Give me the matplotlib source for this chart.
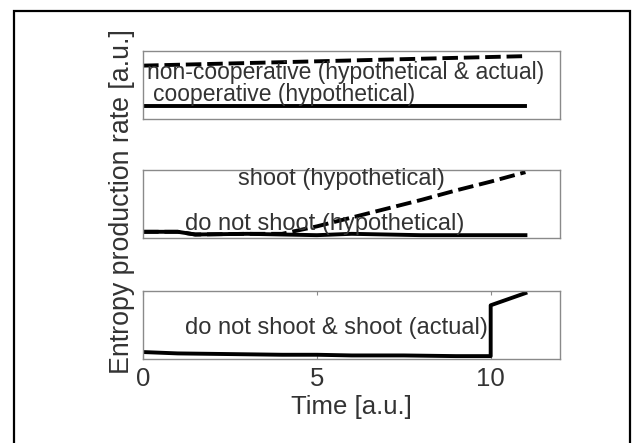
import matplotlib
matplotlib.use('Agg')
import matplotlib.pyplot as plt
import matplotlib.patches as mpatches

plt.rcParams['font.family'] = ['Liberation Sans', 'DejaVu Sans']

# top panel: cooperation
t_noncoop = [0, 5.5, 11]
y_noncoop = [0.79, 0.86, 0.93]
t_coop = [0, 11]
y_coop = [0.19, 0.19]

# middle panel: shoot / do not shoot (hypothetical)
t_mid = [0, 1, 1.5, 3, 4, 5, 6, 7, 8, 9, 10, 11]
y_noshoot = [0.09, 0.09, 0.05, 0.06, 0.05, 0.04, 0.06, 0.05, 0.04, 0.04, 0.04, 0.04]
y_shoot = [0.09, 0.09, 0.05, 0.06, 0.06, 0.17, 0.30, 0.43, 0.56, 0.70, 0.83, 0.97]

# bottom panel: actual
t_act = [0, 1, 2.5, 4, 5, 6, 7.5, 9, 10, 10, 11]
y_act = [0.10, 0.08, 0.07, 0.06, 0.06, 0.05, 0.05, 0.04, 0.04, 0.79, 0.97]

xticks = [0, 5, 10]

txt_col = '#333333'
spine_col = '#8a8a8a'
lw = 2.8
dash = (4, 1.5)

fig = plt.figure(figsize=(6.33, 4.43), dpi=100)

# outer black frame
fig.patches.append(mpatches.Rectangle((14 / 633, -0.1), (630 - 14) / 633, 1 - 11 / 443 + 0.1,
                                      transform=fig.transFigure, fill=False,
                                      edgecolor='black', linewidth=1.6))

left, width, height = 0.226, 0.659, 0.153
ax1 = fig.add_axes([left, 0.731, width, height])
ax2 = fig.add_axes([left, 0.463, width, height])
ax3 = fig.add_axes([left, 0.190, width, height])

for ax in (ax1, ax2, ax3):
    ax.set_xlim(0, 12)
    ax.set_ylim(0, 1)
    ax.set_yticks([])
    for s in ax.spines.values():
        s.set_color(spine_col)
        s.set_linewidth(1.0)

ax1.set_xticks([])
ax2.set_xticks([])

ax1.plot(t_noncoop, y_noncoop, color='black', lw=lw, ls=(0, dash))
ax1.plot(t_coop, y_coop, color='black', lw=lw)
ax1.text(0.12, 0.69, 'non-cooperative (hypothetical & actual)', fontsize=16.5,
         color=txt_col, va='center', ha='left')
ax1.text(0.29, 0.37, 'cooperative (hypothetical)', fontsize=16.5,
         color=txt_col, va='center', ha='left')

ax2.plot(t_mid, y_shoot, color='black', lw=lw, ls=(0, dash))
ax2.plot(t_mid, y_noshoot, color='black', lw=lw)
ax2.text(5.7, 0.87, 'shoot (hypothetical)', fontsize=17,
         color=txt_col, va='center', ha='center')
ax2.text(1.2, 0.21, 'do not shoot (hypothetical)', fontsize=17,
         color=txt_col, va='center', ha='left')

ax3.plot(t_act, y_act, color='black', lw=lw)
ax3.text(1.2, 0.46, 'do not shoot & shoot (actual)', fontsize=17,
         color=txt_col, va='center', ha='left')
ax3.set_xticks(xticks)
ax3.tick_params(axis='x', direction='in', top=True, length=3, color=spine_col,
                labelsize=18.5, labelcolor=txt_col, pad=6)
ax3.set_xlabel('Time [a.u.]', fontsize=18.5, color=txt_col, labelpad=3)

fig.text(0.193, 0.545, 'Entropy production rate [a.u.]', rotation=90,
         fontsize=19.3, color=txt_col, ha='center', va='center')

fig.savefig('out.png', dpi=100)
